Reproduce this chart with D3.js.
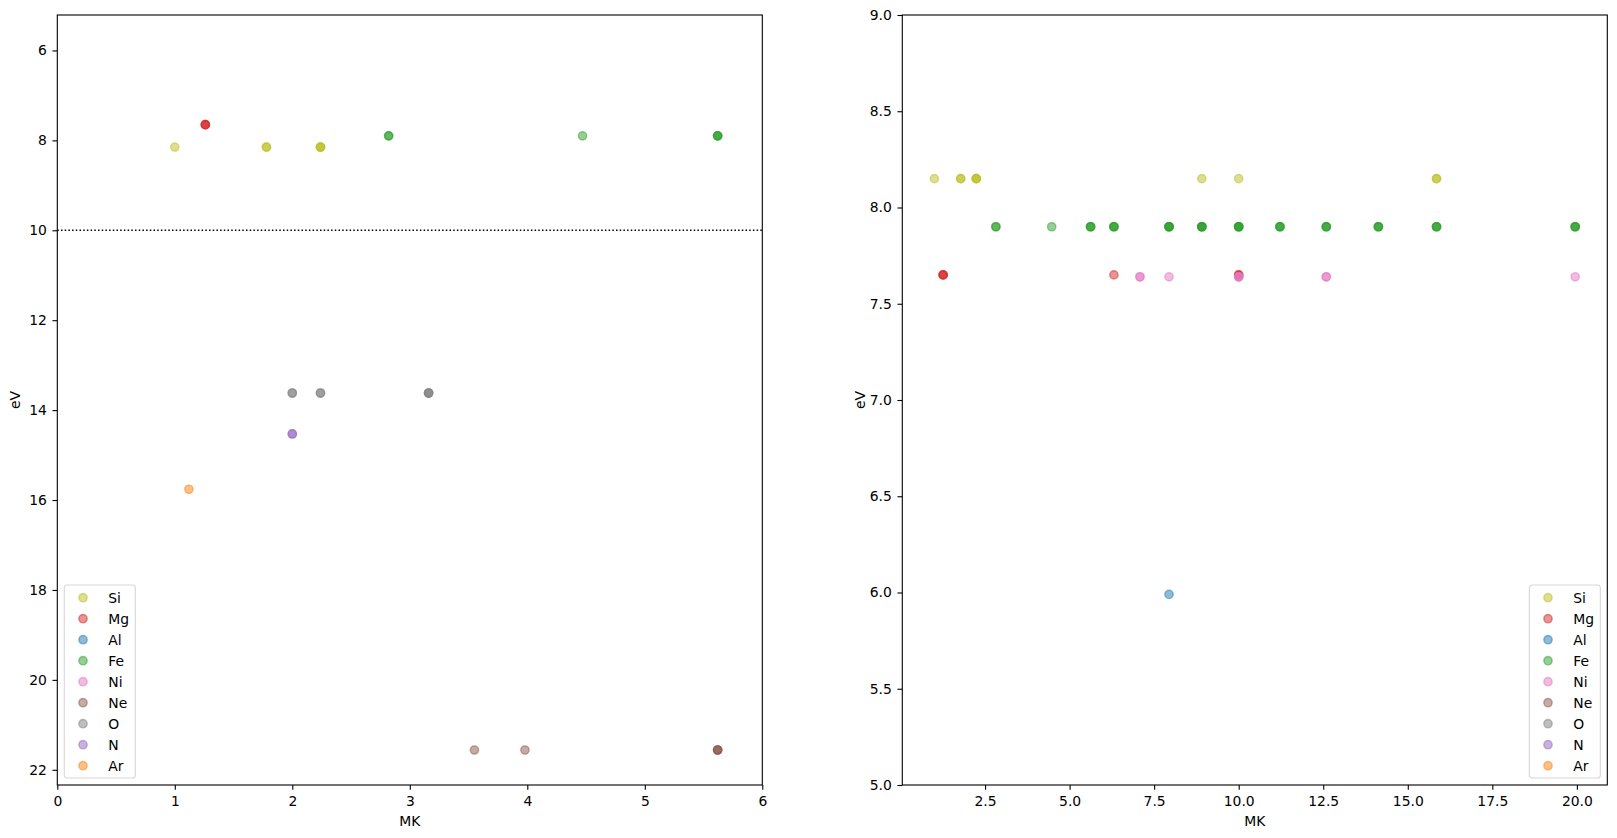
<!DOCTYPE html>
<html>
<head>
<meta charset="utf-8">
<script src="https://cdn.jsdelivr.net/npm/d3@7"></script>
<style>
  html, body { margin: 0; padding: 0; background: #fff; }
  svg { display: block; font-family: "DejaVu Sans", sans-serif; }
</style>
</head>
<body>
<div id="chart"></div>
<script>
// element names and their first ionisation energy (eV)
const elements = ["Si", "Mg", "Al", "Fe", "Ni", "Ne", "O", "N", "Ar"];
const energies = [8.15, 7.65, 5.99, 7.90, 7.64, 21.56, 13.62, 14.53, 15.76];

// temperatures (MK) where each element shows up; repeats are stacked points
const siMK = [1.0, 1.78, 1.78, 2.24, 2.24, 2.24, 8.91, 10.0, 15.85, 15.85];
const mgMK = [1.26, 1.26, 1.26, 6.31, 10.0, 10.0];
const alMK = [7.94];
const feMK = [2.82, 2.82, 4.47, 5.62, 5.62, 5.62, 6.31, 6.31, 6.31,
  7.94, 7.94, 7.94, 7.94, 8.91, 8.91, 8.91, 8.91, 10.0, 10.0, 10.0, 10.0,
  11.22, 11.22, 11.22, 12.59, 12.59, 12.59, 14.13, 14.13, 14.13,
  15.85, 15.85, 15.85, 19.95, 19.95, 19.95];
const niMK = [7.08, 7.08, 7.94, 10.0, 10.0, 10.0, 12.59, 12.59, 19.95];
const neMK = [3.55, 3.98, 5.62, 5.62, 5.62];
const oMK = [2.0, 2.0, 2.24, 2.24, 3.16, 3.16, 3.16];
const nMK = [2.0, 2.0];
const arMK = [1.12];

const temps = [siMK, mgMK, alMK, feMK, niMK, neMK, oMK, nMK, arMK];

// ticks
const leftXTicks = [0, 1, 2, 3, 4, 5, 6];
const leftYTicks = [6, 8, 10, 12, 14, 16, 18, 20, 22];
const rightXTicks = [2.5, 5.0, 7.5, 10.0, 12.5, 15.0, 17.5, 20.0];
const rightYTicks = [5.0, 5.5, 6.0, 6.5, 7.0, 7.5, 8.0, 8.5, 9.0];
const refLine = 10;

const colors = ["#bcbd22", "#d62728", "#1f77b4", "#2ca02c", "#e377c2",
  "#8c564b", "#7f7f7f", "#9467bd", "#ff7f0e"];

const W = 1617;
const H = 838;
const yTop = 15;
const yBottom = 785;
const fs = 13.9;
const r = 4.17;

// flatten into point records
const points = [];
elements.forEach((el, i) => {
  temps[i].forEach((t) => points.push({ el: el, i: i, x: t, y: energies[i] }));
});

const svg = d3
  .select("#chart")
  .append("svg")
  .attr("width", W)
  .attr("height", H);

const panels = [
  {
    id: "left",
    x0: 57.3,
    x1: 762.3,
    xDomain: [0, 6],
    yDomain: [22.3385, 5.2115],
    xTicks: leftXTicks,
    yTicks: leftYTicks,
    xFmt: d3.format("d"),
    yFmt: d3.format("d"),
    legend: "left",
    hline: true,
  },
  {
    id: "right",
    x0: 902.3,
    x1: 1607.3,
    xDomain: [0.0524, 20.9],
    yDomain: [5, 9],
    xTicks: rightXTicks,
    yTicks: rightYTicks,
    xFmt: d3.format(".1f"),
    yFmt: d3.format(".1f"),
    legend: "right",
    hline: false,
  },
];

function drawPanel(p) {
  const x = d3.scaleLinear().domain(p.xDomain).range([p.x0, p.x1]);
  const y = d3.scaleLinear().domain(p.yDomain).range([yBottom, yTop]);

  svg
    .append("clipPath")
    .attr("id", `clip-${p.id}`)
    .append("rect")
    .attr("x", p.x0)
    .attr("y", yTop)
    .attr("width", p.x1 - p.x0)
    .attr("height", yBottom - yTop);

  const plot = svg.append("g").attr("clip-path", `url(#clip-${p.id})`);

  // dotted reference line
  if (p.hline) {
    plot
      .append("line")
      .attr("x1", p.x0)
      .attr("x2", p.x1)
      .attr("y1", y(refLine))
      .attr("y2", y(refLine))
      .attr("stroke", "#000")
      .attr("stroke-width", 1.6)
      .attr("stroke-dasharray", "1.5,2.2");
  }

  // scatter points, drawn element by element
  plot
    .selectAll("circle")
    .data(points)
    .enter()
    .append("circle")
    .attr("cx", (d) => x(d.x))
    .attr("cy", (d) => y(d.y))
    .attr("r", r)
    .attr("fill", (d) => colors[d.i])
    .attr("fill-opacity", 0.5)
    .attr("stroke", (d) => colors[d.i])
    .attr("stroke-opacity", 0.5)
    .attr("stroke-width", 1.39);

  // axes
  const xAxis = svg
    .append("g")
    .attr("transform", `translate(0,${yBottom})`)
    .call(
      d3.axisBottom(x).tickValues(p.xTicks).tickFormat(p.xFmt)
        .tickSize(4.86).tickPadding(6.2)
    );
  const yAxis = svg
    .append("g")
    .attr("transform", `translate(${p.x0},0)`)
    .call(
      d3.axisLeft(y).tickValues(p.yTicks).tickFormat(p.yFmt)
        .tickSize(4.86).tickPadding(5.6)
    );
  [xAxis, yAxis].forEach((a) => {
    a.select(".domain").remove();
    a.selectAll("line").attr("stroke", "#000").attr("stroke-width", 1.1);
    a.selectAll("text")
      .attr("fill", "#000")
      .style("font-size", `${fs}px`)
      .style("font-family", "DejaVu Sans");
  });

  // frame
  svg
    .append("rect")
    .attr("x", p.x0)
    .attr("y", yTop)
    .attr("width", p.x1 - p.x0)
    .attr("height", yBottom - yTop)
    .attr("fill", "none")
    .attr("stroke", "#000")
    .attr("stroke-width", 1.1);

  // axis labels
  svg
    .append("text")
    .attr("x", (p.x0 + p.x1) / 2)
    .attr("y", 826)
    .attr("text-anchor", "middle")
    .style("font-size", `${fs}px`)
    .text("MK");
  svg
    .append("text")
    .attr("transform", `translate(${p.x0 - 37},${(yTop + yBottom) / 2}) rotate(-90)`)
    .attr("text-anchor", "middle")
    .style("font-size", `${fs}px`)
    .text("eV");

  // legend
  const lw = 71;
  const lh = 193;
  const lx = p.legend === "left" ? p.x0 + 7 : p.x1 - 7 - lw;
  const ly = yBottom - 7 - lh;
  const leg = svg.append("g").attr("transform", `translate(${lx},${ly})`);
  leg
    .append("rect")
    .attr("width", lw)
    .attr("height", lh)
    .attr("rx", 2.8)
    .attr("fill", "#fff")
    .attr("fill-opacity", 0.8)
    .attr("stroke", "#cccccc")
    .attr("stroke-opacity", 0.8)
    .attr("stroke-width", 1.1);
  const rows = leg
    .selectAll("g.row")
    .data(elements)
    .enter()
    .append("g")
    .attr("class", "row")
    .attr("transform", (d, i) => `translate(0,${12.7 + i * 21})`);
  rows
    .append("circle")
    .attr("cx", 18.7)
    .attr("cy", 0)
    .attr("r", r)
    .attr("fill", (d, i) => colors[i])
    .attr("fill-opacity", 0.5)
    .attr("stroke", (d, i) => colors[i])
    .attr("stroke-opacity", 0.5)
    .attr("stroke-width", 1.39);
  rows
    .append("text")
    .attr("x", 44)
    .attr("y", 4.9)
    .style("font-size", `${fs}px`)
    .text((d) => d);
}

panels.forEach(drawPanel);
</script>
</body>
</html>
